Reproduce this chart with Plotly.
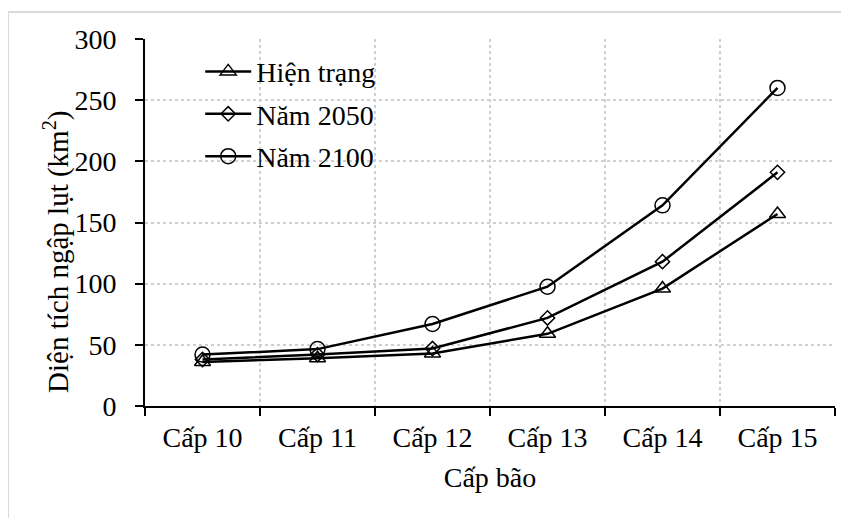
import plotly.graph_objects as go

categories = ["Cấp 10", "Cấp 11", "Cấp 12", "Cấp 13", "Cấp 14", "Cấp 15"]
hien_trang = [36, 39, 43, 59, 96, 157]
nam_2050 = [38, 42, 47, 72, 118, 191]
nam_2100 = [42, 46.5, 67, 97.5, 164, 260]
y_ticks = [0, 50, 100, 150, 200, 250, 300]

FONT = "Liberation Serif, Times New Roman, serif"
xpos = list(range(len(categories)))

series = [
    ("Hiện trạng", hien_trang, "triangle-up-open", 14),
    ("Năm 2050", nam_2050, "diamond-open", 11),
    ("Năm 2100", nam_2100, "circle-open", 15),
]

fig = go.Figure()
for i, (name, vals, sym, size) in enumerate(series):
    fig.add_trace(go.Scatter(
        x=xpos, y=vals, name=name, mode="lines+markers",
        legendgroup=f"g{i}",
        line=dict(color="black", width=2.5),
        marker=dict(symbol=sym, size=size, color="black",
                    line=dict(color="black", width=1.5)),
    ))

fig.update_layout(
    width=841, height=510,
    margin=dict(l=137, r=14, t=31, b=112),
    paper_bgcolor="white", plot_bgcolor="white",
    font=dict(family=FONT, size=28, color="black"),
    showlegend=True,
    legend=dict(x=0.08, y=0.979, xanchor="left", yanchor="top",
                bgcolor="rgba(0,0,0,0)", tracegroupgap=3, itemwidth=46,
                font=dict(family=FONT, size=28, color="black")),
    xaxis=dict(
        range=[-0.5, 5.5], tickmode="array", tickvals=xpos, ticktext=categories,
        ticks="", showgrid=False, showline=True, linecolor="black", linewidth=2,
        zeroline=False, ticklabelstandoff=5,
        minor=dict(tickvals=[k - 0.5 for k in range(len(categories) + 1)],
                   ticks="outside", ticklen=8, tickwidth=2, tickcolor="black",
                   showgrid=True, gridcolor="#cfcfcf", griddash="dot", gridwidth=1.5),
        title=dict(text="Cấp bão", standoff=16, font=dict(family=FONT, size=28)),
        tickfont=dict(family=FONT, size=28),
    ),
    yaxis=dict(
        range=[0, 300], tickmode="array", tickvals=y_ticks,
        ticks="outside", ticklen=8, tickwidth=2, tickcolor="black",
        showline=True, linecolor="black", linewidth=2, zeroline=False,
        ticklabelstandoff=13,
        showgrid=True, gridcolor="#cfcfcf", griddash="dot", gridwidth=1.5,
        tickfont=dict(family=FONT, size=28),
    ),
    annotations=[dict(text="Diện tích ngập lụt (km<sup>2</sup>)", textangle=-90,
                      xref="paper", yref="paper", x=-0.1275, y=0.42,
                      xanchor="center", yanchor="middle", showarrow=False,
                      font=dict(family=FONT, size=29, color="black"))],
    shapes=[dict(type="rect", xref="paper", yref="paper",
                 x0=-0.1986, x1=1.2, y0=-0.6, y1=1.0736,
                 line=dict(color="#d9d9d9", width=2), fillcolor="rgba(0,0,0,0)",
                 layer="below")],
)

fig.write_html("out.html")
